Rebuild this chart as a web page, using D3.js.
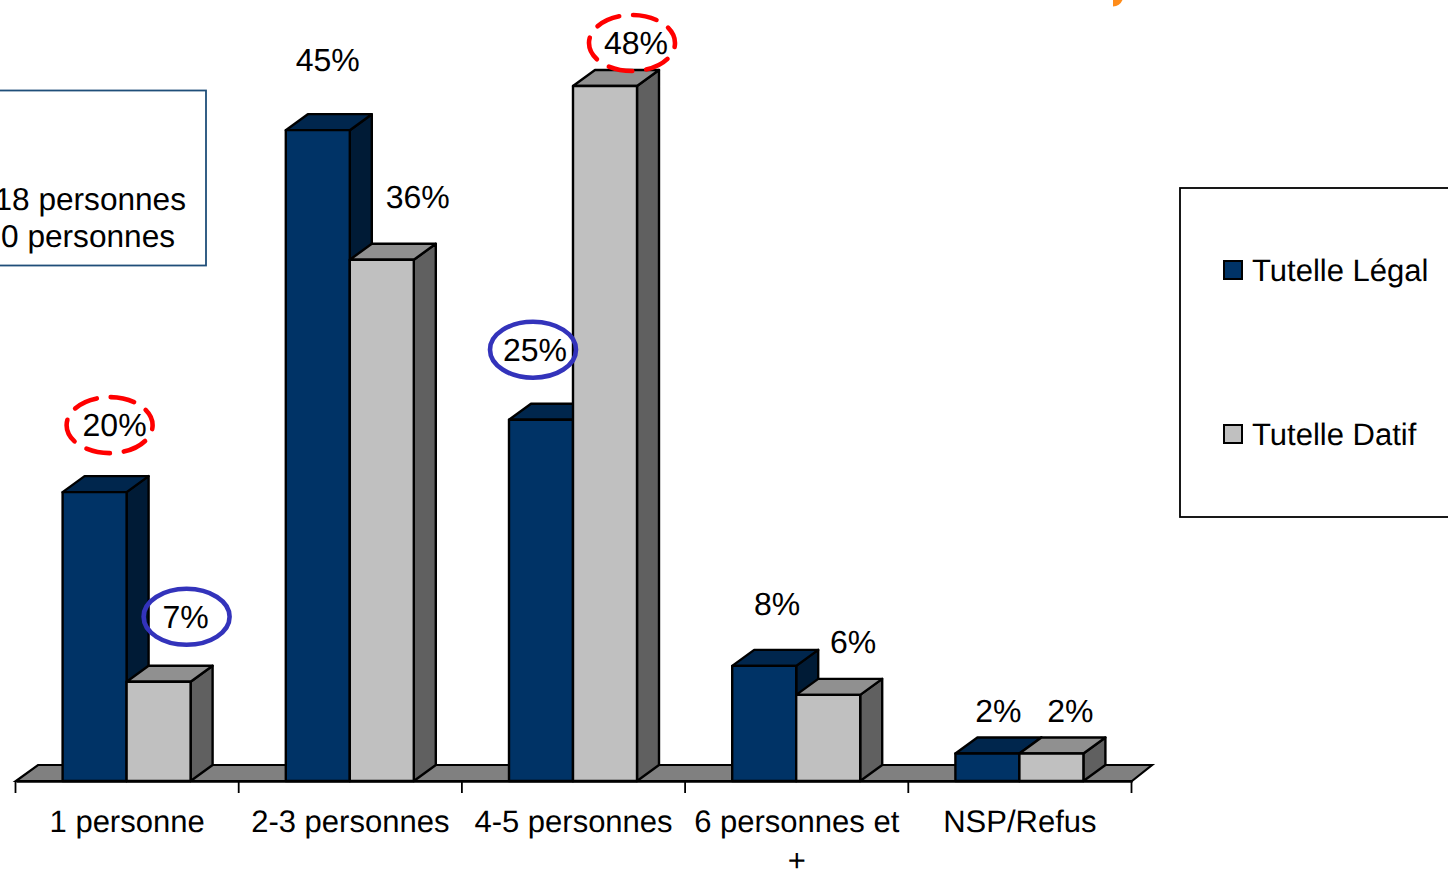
<!DOCTYPE html>
<html lang="fr"><head><meta charset="utf-8">
<script src="https://cdn.jsdelivr.net/npm/d3@7/dist/d3.min.js"></script>
<style>
html,body{margin:0;padding:0;background:#fff;overflow:hidden}
svg{display:block}
text{font-family:"Liberation Sans",Arial,sans-serif;font-size:31px;fill:#000;text-rendering:geometricPrecision}
text.val{font-size:32px}
</style></head><body><svg id="c" width="1448" height="870"></svg>
<script>
const categories = ["1 personne","2-3 personnes","4-5 personnes","6 personnes et +","NSP/Refus"];
const seriesNames = ["Tutelle Légal","Tutelle Datif"];
const legalValues = [19.95,44.95,24.95,7.95,1.9];
const datifValues = [6.85,36,48,5.95,1.9];
const legalLabels = ["20%","45%","25%","8%","2%"];
const datifLabels = ["7%","36%","48%","6%","2%"];
const boxLines = ["18 personnes","0 personnes"];

const svg = d3.select("#c");
const base = 781, depthX = 22, depthY = 16;

const x0 = d3.scaleBand().domain(categories).range([16,1132]);
const x1 = d3.scaleBand().domain(seriesNames).range([46.6,174.6]);
const y = d3.scaleLinear().domain([0,48]).range([base,86]);

const palette = {
  "Tutelle Légal":{front:"#003366",top:"#00264d",side:"#001b36"},
  "Tutelle Datif":{front:"#c0c0c0",top:"#909090",side:"#606060"}
};

// label nudges relative to the bar's front-centre and top, as placed on the slide
const nudges = {
  "Tutelle Légal":[[20,-56],[10,-59],[-6,-59],[13,-51],[11,-31]],
  "Tutelle Datif":[[27,-54],[36,-52],[31,-32],[25,-42],[19,-31]]
};

// orange fragment at the top edge
svg.append("path").attr("d","M1113,0 L1122.5,0 A11,11 0 0 1 1113,6.5 Z").attr("fill","#ff8c1a");

// left note box
svg.append("rect").attr("x",-10).attr("y",90.5).attr("width",216).attr("height",175)
  .attr("fill","#fff").attr("stroke","#1f4e79").attr("stroke-width",1.8);
svg.selectAll("text.note").data(boxLines).join("text").attr("class","note")
  .attr("text-anchor","end").style("font-size","31.6px")
  .attr("x",(d,i)=>i?175:186).attr("y",(d,i)=>210+i*37).text(d=>d);

// floor
svg.append("polygon")
  .attr("points",[[16,base],[16+depthX,base-depthY],[1132+20,base-depthY],[1132,base]].join(" "))
  .attr("fill","#808080").attr("stroke","#000").attr("stroke-width",2.2);

// axis
const axis = d3.axisBottom(x0).tickSize(0).tickPadding(0);
const gAxis = svg.append("g").attr("transform",`translate(0,${base})`).call(axis);
gAxis.select(".domain").attr("stroke","#000").attr("stroke-width",2.6);
gAxis.attr("font-family",null).attr("font-size",null);
gAxis.selectAll(".tick text").each(function(d){
  const t = d3.select(this).attr("y",null).attr("dy",null).text(null);
  const lines = d==="6 personnes et +" ? ["6 personnes et","+"] : [d];
  lines.forEach((s,i)=>t.append("tspan").attr("x",-0.5).attr("y",51+i*39).text(s));
});
const edges = categories.map(c=>x0(c)).concat([x0.range()[1]]);
gAxis.selectAll("line.edge").data(edges).join("line").attr("class","edge")
  .attr("x1",d=>d-0.5).attr("x2",d=>d-0.5).attr("y1",0).attr("y2",12)
  .attr("stroke","#000").attr("stroke-width",1.8);

// bars
const rows = categories.flatMap((c,i)=>[
  {c,i,s:seriesNames[0],v:legalValues[i],label:legalLabels[i]},
  {c,i,s:seriesNames[1],v:datifValues[i],label:datifLabels[i]}
]);
const bars = svg.append("g").attr("stroke","#000").attr("stroke-width",2.4).attr("stroke-linejoin","round");
rows.forEach(r=>{
  const l = x0(r.c)+x1(r.s), w = x1.bandwidth(), t = y(r.v), p = palette[r.s];
  const g = bars.append("g");
  g.append("polygon").attr("fill",p.side)
    .attr("points",[[l+w,t],[l+w+depthX,t-depthY],[l+w+depthX,base-depthY],[l+w,base]].join(" "));
  g.append("polygon").attr("fill",p.top)
    .attr("points",[[l,t],[l+depthX,t-depthY],[l+w+depthX,t-depthY],[l+w,t]].join(" "));
  g.append("rect").attr("fill",p.front).attr("x",l).attr("y",t).attr("width",w).attr("height",base-t);
});

// data labels
const labelPos = r=>{
  const n = nudges[r.s][r.i];
  return [x0(r.c)+x1(r.s)+x1.bandwidth()/2+n[0], y(r.v)+n[1]];
};
svg.selectAll("text.val").data(rows).join("text").attr("class","val")
  .attr("text-anchor","middle")
  .attr("x",d=>labelPos(d)[0]).attr("y",d=>labelPos(d)[1]).text(d=>d.label);

// highlight ellipses around the extreme values
const highlights = [
  {s:seriesNames[0],i:0,dx:-5,color:"#ff0000",dash:"24 14"},
  {s:seriesNames[1],i:0,dx:1,color:"#3333bb",dash:null},
  {s:seriesNames[0],i:2,dx:-2,color:"#3333bb",dash:null},
  {s:seriesNames[1],i:2,dx:-4,color:"#ff0000",dash:"24 14"}
];
highlights.forEach(h=>{
  const r = rows.find(o=>o.s===h.s&&o.i===h.i), p = labelPos(r);
  svg.append("ellipse").attr("cx",p[0]+h.dx).attr("cy",p[1]-11).attr("rx",43).attr("ry",28)
    .attr("fill","none").attr("stroke",h.color).attr("stroke-width",4.6)
    .attr("stroke-linecap","round").attr("stroke-dasharray",h.dash).attr("stroke-dashoffset",-18);
});

// legend
svg.append("rect").attr("x",1180).attr("y",188).attr("width",290).attr("height",329)
  .attr("fill","#fff").attr("stroke","#000").attr("stroke-width",1.8);
const lg = svg.selectAll("g.lg").data(seriesNames).join("g").attr("class","lg")
  .attr("transform",(d,i)=>`translate(1224,${261+i*164})`);
lg.append("rect").attr("width",18).attr("height",18).attr("fill",d=>palette[d].front)
  .attr("stroke","#000").attr("stroke-width",2);
lg.append("text").attr("x",28).attr("y",20).text(d=>d);
</script></body></html>
